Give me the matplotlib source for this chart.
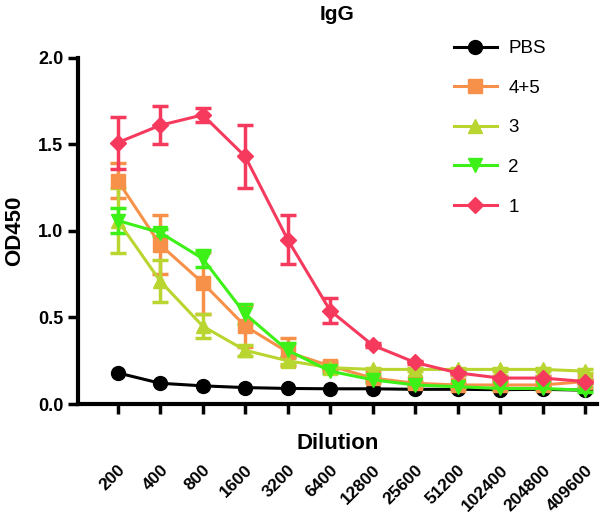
import numpy as np
import matplotlib.pyplot as plt

plt.rcParams['font.family'] = ['Liberation Sans', 'DejaVu Sans']

dilutions = ['200', '400', '800', '1600', '3200', '6400', '12800', '25600',
             '51200', '102400', '204800', '409600']

pbs = [0.18, 0.12, 0.105, 0.095, 0.09, 0.088, 0.088, 0.085, 0.085, 0.083, 0.085, 0.08]
g45 = [1.29, 0.92, 0.70, 0.45, 0.30, 0.22, 0.15, 0.12, 0.11, 0.11, 0.11, 0.13]
g45_err = [0.10, 0.17, 0.18, 0.12, 0.08, 0.02, 0.01, 0.01, 0.01, 0.01, 0.01, 0.01]
g3 = [1.06, 0.71, 0.45, 0.31, 0.25, 0.21, 0.20, 0.20, 0.20, 0.20, 0.20, 0.19]
g3_err = [0.19, 0.12, 0.07, 0.03, 0.02, 0.01, 0.01, 0.01, 0.01, 0.01, 0.01, 0.01]
g2 = [1.06, 0.99, 0.84, 0.52, 0.31, 0.19, 0.14, 0.11, 0.10, 0.09, 0.09, 0.08]
g2_err = [0.07, 0.02, 0.05, 0.06, 0.04, 0.01, 0.01, 0.01, 0.01, 0.01, 0.01, 0.01]
g1 = [1.51, 1.61, 1.67, 1.43, 0.95, 0.54, 0.34, 0.24, 0.18, 0.15, 0.15, 0.13]
g1_err = [0.15, 0.11, 0.04, 0.18, 0.14, 0.07, 0.01, 0.01, 0.01, 0.01, 0.01, 0.01]

x = np.arange(len(dilutions))

fig = plt.figure(figsize=(6.03, 5.16), dpi=100)
ax = fig.add_axes([0.129, 0.217, 0.861, 0.671])

handles = []
labels = []
h, = ax.plot(x, pbs, color='black', marker='o', ms=10, lw=2.2, zorder=3)
handles.append(h)
labels.append('PBS')
series = [
    (g45, g45_err, '#F7914A', 's', '4+5'),
    (g3, g3_err, '#B8D530', '^', '3'),
    (g2, g2_err, '#3DF018', 'v', '2'),
    (g1, g1_err, '#F53A5E', 'D', '1'),
]
for y, e, c, m, lab in series:
    ms = 8 if m == 'D' else 10
    cont = ax.errorbar(x, y, yerr=e, color=c, marker=m, ms=ms, lw=2.2,
                       elinewidth=2.5, capsize=6, capthick=2.5, zorder=3)
    handles.append(cont[0])
    labels.append(lab)

ax.set_xlim(-0.94, 11.28)
ax.set_ylim(0, 2.0)
ax.set_yticks([0, 0.5, 1.0, 1.5, 2.0])
ax.set_yticklabels(['0.0', '0.5', '1.0', '1.5', '2.0'], fontsize=13, fontweight='bold')
ax.set_xticks(x)
ax.set_xticklabels(dilutions, rotation=45, ha='right', rotation_mode='anchor',
                   fontsize=12.5, fontweight='bold')
ax.tick_params(axis='x', length=7, width=2.5, pad=35)
ax.tick_params(axis='y', length=7, width=2.5)
for s in ['top', 'right']:
    ax.spines[s].set_visible(False)
for s in ['left', 'bottom']:
    ax.spines[s].set_linewidth(3)

ax.set_ylabel('OD450', fontsize=16, fontweight='bold')
ax.yaxis.set_label_coords(-0.102, 0.5)
ax.set_xlabel('Dilution', fontsize=16, fontweight='bold')
ax.xaxis.set_label_coords(0.5, -0.083)
ax.set_title('IgG', fontsize=15, fontweight='bold', pad=27)

ax.legend(handles, labels, loc='upper left', bbox_to_anchor=(0.692, 1.10),
          frameon=False, fontsize=13.5, labelspacing=1.2, handlelength=2.3,
          handletextpad=0.6)

fig.savefig('out.png', dpi=100)
